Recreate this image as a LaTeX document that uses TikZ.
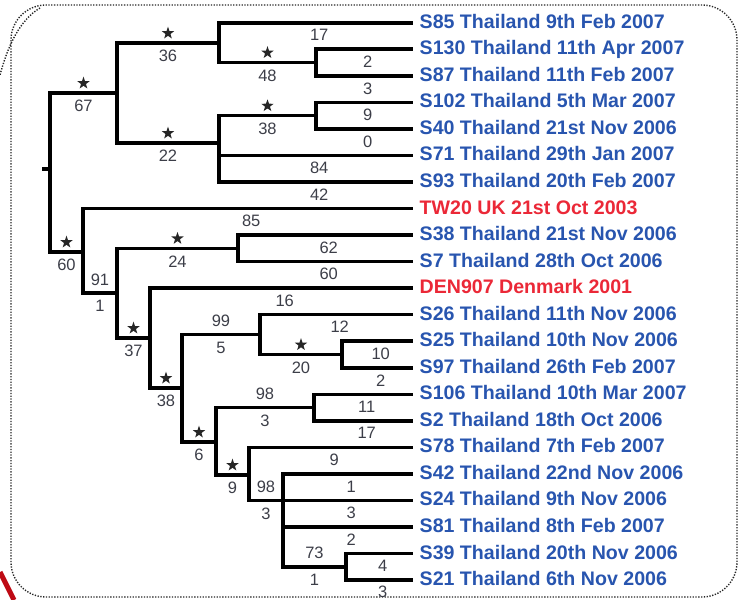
\documentclass[tikz,border=0pt]{standalone}
\usepackage{fontspec}
\setmainfont{Liberation Sans}
\usetikzlibrary{shapes.geometric}
\definecolor{taxblue}{RGB}{40,85,175}
\definecolor{taxred}{RGB}{235,40,55}
\definecolor{numgray}{RGB}{60,62,72}
\definecolor{cornerred}{RGB}{190,10,20}

\begin{document}
\begin{tikzpicture}[x=1pt,y=-1pt,
    br/.style={line width=3.6pt},
    tip/.style={br,shorten >=6.5pt},
    leaf/.style={anchor=west,inner sep=0pt,text height=11pt,text depth=0pt,
        font=\fontsize{19.6}{22}\selectfont\bfseries,text=taxblue},
    other/.style={leaf,text=taxred},
    num/.style={inner sep=0pt,font=\fontsize{16.5}{18}\selectfont,text=numgray},
    sig/.style={star,star points=5,star point ratio=2.5,fill=black!85,inner sep=0pt,minimum size=13pt},
    frame/.style={black!85,line width=1.4pt,dash pattern=on 1.3pt off 1.5pt}]
    \useasboundingbox (0,0) rectangle (740,600);

    % frame round the tree
    \draw [frame,rounded corners=35pt] (11,5) rectangle (737,597);
    \draw [frame] (40,8) .. controls (20,20) and (8,45) .. (0,75);
    \draw [cornerred,line width=5pt] (0,572) -- (14,600);

    % leaves
    \node [leaf]  (l1)  at (419.5,22.7)  {S85 Thailand 9th Feb 2007};
    \node [leaf]  (l2)  at (419.5,49.2)  {S130 Thailand 11th Apr 2007};
    \node [leaf]  (l3)  at (419.5,75.8)  {S87 Thailand 11th Feb 2007};
    \node [leaf]  (l4)  at (419.5,102.3) {S102 Thailand 5th Mar 2007};
    \node [leaf]  (l5)  at (419.5,128.9) {S40 Thailand 21st Nov 2006};
    \node [leaf]  (l6)  at (419.5,155.4) {S71 Thailand 29th Jan 2007};
    \node [leaf]  (l7)  at (419.5,182.0) {S93 Thailand 20th Feb 2007};
    \node [other] (l8)  at (419.5,208.5) {TW20 UK 21st Oct 2003};
    \node [leaf]  (l9)  at (419.5,235.0) {S38 Thailand 21st Nov 2006};
    \node [leaf]  (l10) at (419.5,261.6) {S7 Thailand 28th Oct 2006};
    \node [other] (l11) at (419.5,288.1) {DEN907 Denmark 2001};
    \node [leaf]  (l12) at (419.5,314.6) {S26 Thailand 11th Nov 2006};
    \node [leaf]  (l13) at (419.5,341.2) {S25 Thailand 10th Nov 2006};
    \node [leaf]  (l14) at (419.5,367.7) {S97 Thailand 26th Feb 2007};
    \node [leaf]  (l15) at (419.5,394.3) {S106 Thailand 10th Mar 2007};
    \node [leaf]  (l16) at (419.5,420.8) {S2 Thailand 18th Oct 2006};
    \node [leaf]  (l17) at (419.5,447.3) {S78 Thailand 7th Feb 2007};
    \node [leaf]  (l18) at (419.5,473.9) {S42 Thailand 22nd Nov 2006};
    \node [leaf]  (l19) at (419.5,500.4) {S24 Thailand 9th Nov 2006};
    \node [leaf]  (l20) at (419.5,527.0) {S81 Thailand 8th Feb 2007};
    \node [leaf]  (l21) at (419.5,553.5) {S39 Thailand 20th Nov 2006};
    \node [leaf]  (l22) at (419.5,580.0) {S21 Thailand 6th Nov 2006};

    % inner nodes
    \coordinate (stub) at (42,169);
    \coordinate (r) at (50,169);
    \coordinate (a) at (117,93);
    \coordinate (b) at (219,43);
    \coordinate (e) at (316,62.5);
    \coordinate (d) at (219,143);
    \coordinate (f) at (316,115.6);
    \coordinate (c) at (83,252);
    \coordinate (g) at (117,293);
    \coordinate (h) at (238,248.3);
    \coordinate (i) at (150,338);
    \coordinate (j) at (182,388);
    \coordinate (k) at (260,334.5);
    \coordinate (m) at (342,354.5);
    \coordinate (l) at (216,442);
    \coordinate (n) at (314,407.5);
    \coordinate (o) at (249,475);
    \coordinate (p) at (283,500.4);
    \coordinate (q) at (346,566.8);

    % branches
    \draw [br] (stub) -- (r);
    \draw [br] (r) |- (a) node [pos=.75,sig,above=5pt] {} node [pos=.75,num,below=5.5pt] {67};
    \draw [br] (a) |- (b) node [pos=.75,sig,above=5pt] {} node [pos=.75,num,below=5.5pt] {36};
    \draw [tip] (b) |- (l1) node [pos=.75,num,below=5pt] {17};
    \draw [br] (b) |- (e) node [pos=.75,sig,above=5pt] {} node [pos=.75,num,below=5.5pt] {48};
    \draw [tip] (e) |- (l2) node [pos=.75,num,below=5pt] {2};
    \draw [tip] (e) |- (l3) node [pos=.75,num,below=5pt] {3};
    \draw [br] (a) |- (d) node [pos=.75,sig,above=5pt] {} node [pos=.75,num,below=5.5pt] {22};
    \draw [br] (d) |- (f) node [pos=.75,sig,above=5pt] {} node [pos=.75,num,below=5.5pt] {38};
    \draw [tip] (f) |- (l4) node [pos=.75,num,below=5pt] {9};
    \draw [tip] (f) |- (l5) node [pos=.75,num,below=5pt] {0};
    \draw [tip] (d) |- (l6) node [pos=.75,num,below=5pt] {84};
    \draw [tip] (d) |- (l7) node [pos=.75,num,below=5pt] {42};

    \draw [br] (r) |- (c) node [pos=.75,sig,above=5pt] {} node [pos=.75,num,below=5.5pt] {60};
    \draw [tip] (c) |- (l8) node [pos=.75,num,below=5pt] {85};
    \draw [br] (c) |- (g) node [pos=.75,num,above=6pt] {91} node [pos=.75,num,below=5.5pt] {1};
    \draw [br] (g) |- (h) node [pos=.75,sig,above=5pt] {} node [pos=.75,num,below=5.5pt] {24};
    \draw [tip] (h) |- (l9) node [pos=.75,num,below=5pt] {62};
    \draw [tip] (h) |- (l10) node [pos=.75,num,below=5pt] {60};
    \draw [br] (g) |- (i) node [pos=.75,sig,above=5pt] {} node [pos=.75,num,below=5.5pt] {37};
    \draw [tip] (i) |- (l11) node [pos=.75,num,below=5pt] {16};
    \draw [br] (i) |- (j) node [pos=.75,sig,above=5pt] {} node [pos=.75,num,below=5.5pt] {38};
    \draw [br] (j) |- (k) node [pos=.75,num,above=6pt] {99} node [pos=.75,num,below=5.5pt] {5};
    \draw [tip] (k) |- (l12) node [pos=.75,num,below=5pt] {12};
    \draw [br] (k) |- (m) node [pos=.75,sig,above=5pt] {} node [pos=.75,num,below=5.5pt] {20};
    \draw [tip] (m) |- (l13) node [pos=.75,num,below=5pt] {10};
    \draw [tip] (m) |- (l14) node [pos=.75,num,below=5pt] {2};
    \draw [br] (j) |- (l) node [pos=.75,sig,above=5pt] {} node [pos=.75,num,below=5.5pt] {6};
    \draw [br] (l) |- (n) node [pos=.75,num,above=6pt] {98} node [pos=.75,num,below=5.5pt] {3};
    \draw [tip] (n) |- (l15) node [pos=.75,num,below=5pt] {11};
    \draw [tip] (n) |- (l16) node [pos=.75,num,below=5pt] {17};
    \draw [br] (l) |- (o) node [pos=.75,sig,above=5pt] {} node [pos=.75,num,below=5.5pt] {9};
    \draw [tip] (o) |- (l17) node [pos=.75,num,below=5pt] {9};
    \draw [br] (o) |- (p) node [pos=.75,num,above=6pt] {98} node [pos=.75,num,below=5.5pt] {3};
    \draw [tip] (p) |- (l18) node [pos=.75,num,below=5pt] {1};
    \draw [tip] (p) |- (l19) node [pos=.75,num,below=5pt] {3};
    \draw [tip] (p) |- (l20) node [pos=.75,num,below=5pt] {2};
    \draw [br] (p) |- (q) node [pos=.75,num,above=6pt] {73} node [pos=.75,num,below=5.5pt] {1};
    \draw [tip] (q) |- (l21) node [pos=.75,num,below=5pt] {4};
    \draw [tip] (q) |- (l22) node [pos=.75,num,below=4pt] {3};
\end{tikzpicture}
\end{document}
